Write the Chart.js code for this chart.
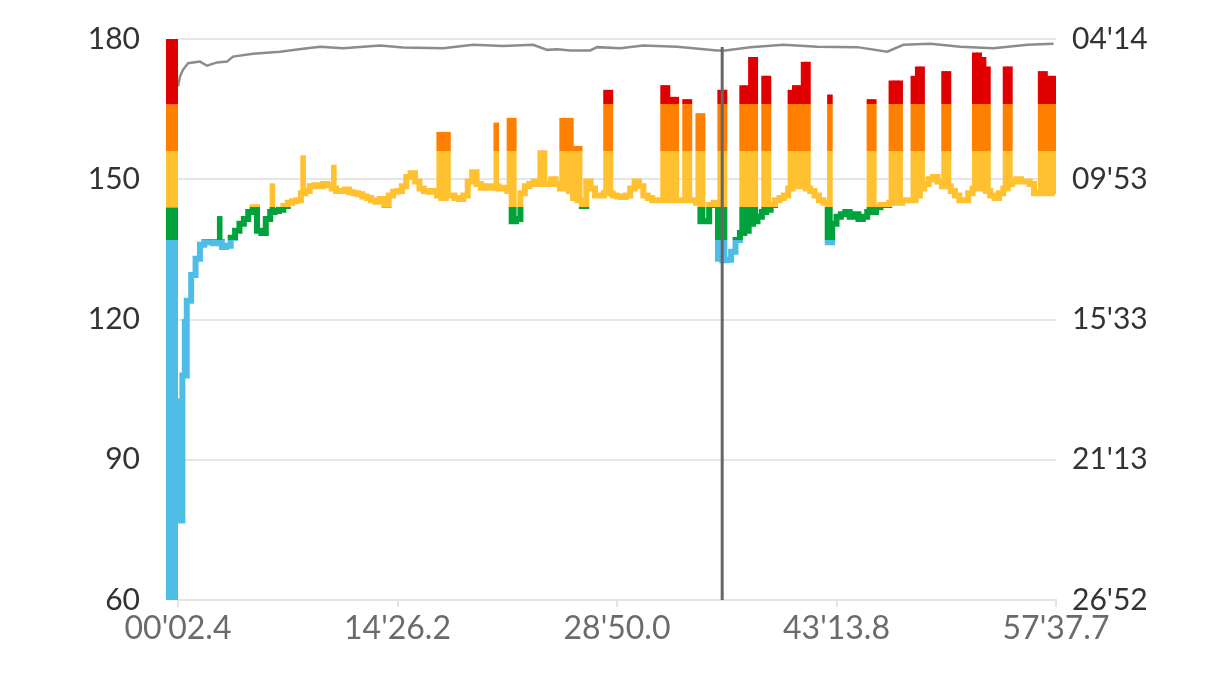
<!DOCTYPE html>
<html>
<head>
<meta charset="utf-8">
<script src="https://cdn.jsdelivr.net/npm/chart.js@4/dist/chart.umd.min.js"></script>
<style>
html,body{margin:0;padding:0;background:#fff;}
#wrap{width:1220px;height:685px;position:relative;}
</style>
</head>
<body>
<div id="wrap"><canvas id="c"></canvas></div>
<script>
// ---- data ----
const xTickLabels = ["00'02.4", "14'26.2", "28'50.0", "43'13.8", "57'37.7"];
const timeStart = 2.4, timeEnd = 3457.7;          // seconds
const bucketSeconds = 17.2765;                     // sample bucket length

const hrTickValues = [60, 90, 120, 150, 180];
const paceTickLabels = ["04'14", "09'53", "15'33", "21'13", "26'52"];
const paceMin = 254.3, paceMax = 1612.7;           // seconds per km

const zoneBounds = [60, 137, 144, 156, 166, 180];
const zoneColors = ['#4fbee6', '#00a33b', '#ffc12f', '#ff8000', '#e00000'];

// heart rate per bucket (bpm)
const hr = [
  77, 108, 124, 129.5, 133, 136, 136.5, 136.5, 136.3, 136.5,
  135.5, 135.8, 137.5, 139, 140.5, 141.5, 143, 144, 139, 138.5,
  141.5, 143, 143.2, 143.5, 144.3, 145, 145.3, 145.5, 147, 147.5,
  148.5, 148.7, 148.5, 149, 148.7, 148, 147.5, 147.5, 147.8, 147.2,
  147, 146.8, 146.3, 146, 145.5, 145.2, 145.8, 144.6, 146.5, 147.3,
  147.5, 148.5, 150.5, 151.3, 149.5, 148, 147.5, 147.3, 147.5, 146.5,
  146, 146.5, 146.5, 146, 145.8, 146.5, 149.5, 151.5, 149, 148.2,
  148.5, 148.2, 148.5, 148, 148.2, 147.5, 141, 141.5, 147, 148.5,
  149, 149.5, 149, 149, 149, 150, 149, 148, 148, 147.5,
  146, 145.5, 144.3, 149.5, 148, 146.5, 146.5, 147, 147, 146.5,
  146.3, 146.2, 146.5, 148, 149.5, 148.5, 146.5, 146, 145.5, 145.5,
  145.5, 145.5, 145.5, 145.5, 145.5, 145.5, 145.5, 145.5, 145, 141,
  141, 144.5, 145, 133, 132.7, 132.8, 134.5, 137, 138.5, 139,
  140.5, 141, 142, 143, 143.5, 144.5, 145.5, 146, 146.5, 148,
  148.5, 149, 148.5, 148, 147.5, 146.5, 145.5, 145, 136.5, 140.5,
  142, 142.5, 143, 142, 142.5, 141.5, 142, 143, 143, 144,
  144.5, 144.5, 145, 145, 145, 145.5, 145.5, 145.5, 146.5, 148,
  149, 150, 150.5, 149.5, 148.5, 148.5, 147.5, 146.5, 145.5, 145.5,
  147, 148, 148, 148, 147.5, 146.5, 146, 147, 148, 149,
  149.5, 150, 149.5, 149.5, 149, 147, 147, 147, 147, 147.5
];

// peak heart rate reached inside a bucket (absent = no spike)
const hrPeakByBucket = {
  0: 103, 1: 120, 9: 142, 21: 149, 28: 155, 35: 153,
  59: 160, 60: 160, 61: 160, 72: 162, 75: 163, 76: 163,
  82: 156, 83: 156, 87: 163, 88: 163, 89: 163, 90: 157, 91: 157,
  97: 169, 98: 169, 110: 170, 111: 170, 112: 167.5, 113: 167.5,
  115: 167, 116: 167, 118: 164, 119: 164, 123: 169, 124: 169,
  128: 170, 129: 170, 130: 176, 131: 176, 133: 172, 134: 172,
  139: 169, 140: 170, 141: 170, 142: 175, 143: 175, 148: 168,
  157: 167, 158: 167, 162: 171, 163: 171, 164: 171,
  167: 172, 168: 174, 169: 174, 174: 173, 175: 173,
  181: 177, 182: 177, 183: 176, 184: 174, 188: 174, 189: 174,
  196: 173, 197: 173, 198: 172, 199: 172
};

// pace (seconds per km) at given times (seconds)
const paceTime = [2.4, 10.3, 22, 41.8, 89, 116.6, 156, 195.3, 219, 297.7, 404, 494.6, 561.5, 652, 797.8, 888.4, 1045.9, 1164, 1282, 1400, 1455.4, 1494.8, 1546, 1624.7, 1652, 1742.8, 1833, 1967, 2124.6, 2156, 2254.7, 2384.4, 2518.5, 2676, 2794, 2857, 2963.5, 3081.6, 3211.6, 3345.4, 3448];
const pace     = [369.5, 345, 329, 313, 309, 319, 311, 309, 297, 290, 285, 278, 273, 276.5, 270, 275, 276.5, 268.5, 271, 268.5, 280.6, 279, 282, 282, 274, 276.5, 270, 273, 282, 282, 274, 268.5, 273, 274, 285, 268.5, 266, 273, 276.5, 268.5, 266];

const cursorTime = 2144;

// ---- build ----
const bucketTimes = hr.map((_, i) => timeStart + (i + 0.5) * bucketSeconds);
const hrPoints = hr.map((v, i) => ({x: bucketTimes[i], y: v}));
const spikePoints = hr.map((v, i) => ({x: bucketTimes[i], y: (hrPeakByBucket[i] != null) ? [v, hrPeakByBucket[i]] : null}));
const pacePoints = pace.map((v, i) => ({x: paceTime[i], y: v}));

let gradCache = null, gradKey = '';
function zoneGradient(chart) {
  const {ctx, chartArea, scales} = chart;
  if (!chartArea || !scales.y) return zoneColors[2];
  const y = scales.y;
  const lo = zoneBounds[0], hi = zoneBounds[zoneBounds.length - 1];
  const p0 = y.getPixelForValue(lo), p1 = y.getPixelForValue(hi);
  const key = p0 + ':' + p1;
  if (gradCache && key === gradKey) return gradCache;
  const g = ctx.createLinearGradient(0, p0, 0, p1);
  const range = hi - lo;
  for (let i = 0; i < zoneColors.length; i++) {
    const a = (zoneBounds[i] - lo) / range, b = (zoneBounds[i + 1] - lo) / range;
    g.addColorStop(a, zoneColors[i]);
    g.addColorStop(b, zoneColors[i]);
  }
  gradCache = g; gradKey = key;
  return g;
}

const zoneBarPlugin = {
  id: 'zoneBar',
  afterDatasetsDraw(chart) {
    const {ctx, chartArea, scales} = chart;
    ctx.save();
    for (let i = 0; i < zoneColors.length; i++) {
      const top = scales.y.getPixelForValue(zoneBounds[i + 1]);
      const bottom = scales.y.getPixelForValue(zoneBounds[i]);
      ctx.fillStyle = zoneColors[i];
      ctx.fillRect(chartArea.left - 12, top, 12, bottom - top);
    }
    ctx.restore();
  }
};

const cursorPlugin = {
  id: 'cursor',
  afterDatasetsDraw(chart) {
    const {ctx, chartArea, scales} = chart;
    const x = scales.x.getPixelForValue(cursorTime);
    ctx.save();
    ctx.strokeStyle = '#666666';
    ctx.lineWidth = 3;
    ctx.beginPath();
    ctx.moveTo(x, chartArea.top + 8);
    ctx.lineTo(x, chartArea.bottom);
    ctx.stroke();
    ctx.restore();
  }
};

const FONT = 'Lato, "Open Sans", sans-serif';

new Chart(document.getElementById('c'), {
  type: 'line',
  data: {
    datasets: [
      {
        type: 'bar',
        data: spikePoints,
        xAxisID: 'x', yAxisID: 'y',
        backgroundColor: (c) => zoneGradient(c.chart),
        borderWidth: 0,
        barPercentage: 1, categoryPercentage: 1,
        inflateAmount: 0.6,
        order: 3
      },
      {
        type: 'line',
        data: hrPoints,
        xAxisID: 'x', yAxisID: 'y',
        borderColor: (c) => zoneGradient(c.chart),
        borderWidth: 6,
        stepped: 'middle',
        pointRadius: 0,
        borderCapStyle: 'square',
        fill: false,
        order: 2
      },
      {
        type: 'line',
        data: pacePoints,
        xAxisID: 'x', yAxisID: 'y2',
        borderColor: '#8c8c8c',
        borderWidth: 2.5,
        pointRadius: 0,
        tension: 0,
        fill: false,
        order: 1
      }
    ]
  },
  options: {
    responsive: true,
    maintainAspectRatio: false,
    animation: false,
    events: [],
    layout: {padding: {top: 39, left: 0, right: 0, bottom: 0}},
    plugins: {legend: {display: false}, tooltip: {enabled: false}},
    scales: {
      x: {
        type: 'linear',
        min: timeStart, max: timeEnd,
        offset: false,
        afterBuildTicks: (s) => { s.ticks = xTickLabels.map((_, i) => ({value: timeStart + i * (timeEnd - timeStart) / (xTickLabels.length - 1)})); },
        afterFit: (s) => { s.height = 85; },
        grid: {display: true, drawOnChartArea: false, drawTicks: true, tickLength: 7, color: '#e4e4e4', lineWidth: 2, offset: false},
        border: {display: true, color: '#e4e4e4', width: 2},
        ticks: {
          autoSkip: false, maxRotation: 0, padding: 2,
          color: '#6b6b6b',
          font: {family: FONT, size: 32},
          callback: (v, i) => xTickLabels[i]
        }
      },
      y: {
        type: 'linear', position: 'left',
        min: hrTickValues[0], max: hrTickValues[hrTickValues.length - 1],
        afterBuildTicks: (s) => { s.ticks = hrTickValues.map(v => ({value: v})); },
        afterFit: (s) => { s.width = 178; },
        grid: {color: '#e6e6e6', lineWidth: 2, drawTicks: true, tickLength: 38, tickColor: 'rgba(0,0,0,0)'},
        border: {display: false},
        ticks: {padding: 0, color: '#333333', font: {family: FONT, size: 30}}
      },
      y2: {
        type: 'linear', position: 'right', reverse: true,
        min: paceMin, max: paceMax,
        afterBuildTicks: (s) => { s.ticks = paceTickLabels.map((_, i) => ({value: paceMin + i * (paceMax - paceMin) / (paceTickLabels.length - 1)})); },
        afterFit: (s) => { s.width = 164; },
        grid: {drawOnChartArea: false, drawTicks: true, tickLength: 16, tickColor: 'rgba(0,0,0,0)'},
        border: {display: false},
        ticks: {padding: 0, color: '#333333', font: {family: FONT, size: 30}, callback: (v, i) => paceTickLabels[i]}
      }
    }
  },
  plugins: [zoneBarPlugin, cursorPlugin]
});
</script>
</body>
</html>
